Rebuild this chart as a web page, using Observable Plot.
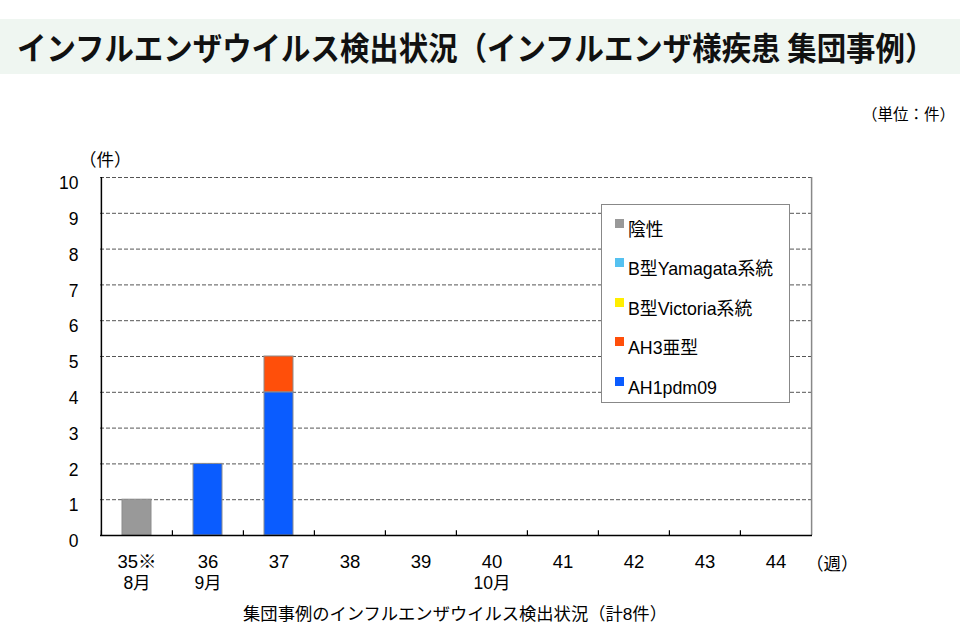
<!DOCTYPE html>
<html><head><meta charset="utf-8">
<script src="https://cdn.jsdelivr.net/npm/d3@7"></script>
<script src="https://cdn.jsdelivr.net/npm/@observablehq/plot@0.6"></script>
<style>
body{margin:0;background:#fff;font-family:"Liberation Sans","Noto Sans CJK JP",sans-serif;}
#wrap{position:relative;width:960px;height:644px;overflow:hidden;}
#title{position:absolute;left:0;top:19px;width:960px;height:55px;background:#eff6f1;}
#title span{position:absolute;left:17px;top:0;font-family:"Noto Sans CJK JP",sans-serif;font-weight:bold;font-size:29px;line-height:55px;color:#111;white-space:nowrap;transform:scale(1.015,1.1);transform-origin:left center;}
.abs{position:absolute;font-family:"Liberation Sans","Noto Sans CJK JP",sans-serif;color:#000;white-space:nowrap;}
#chart{position:absolute;left:0;top:130px;}
#legend{position:absolute;left:601px;top:204px;width:189px;height:199px;border:1.5px solid #888;background:#fff;box-sizing:border-box;}
.li{position:absolute;left:13px;font-size:17.8px;line-height:20px;font-family:"Liberation Sans","Noto Sans CJK JP",sans-serif;}
.sw{position:absolute;left:0;width:9px;height:9px;}
.li span{position:absolute;left:13px;top:0;white-space:nowrap;}
</style></head>
<body><div id="wrap">
<div id="title"><span>インフルエンザウイルス検出状況（インフルエンザ様疾患 集団事例）</span></div>
<div class="abs" style="right:5px;top:102px;font-size:15.5px;">（単位：件）</div>
<div class="abs" style="left:79px;top:146px;font-size:17.5px;">（件）</div>
<div class="abs" style="left:806px;top:550px;font-size:17.5px;">（週）</div>
<div id="chart"></div>
<div id="legend"></div>
<div class="abs" style="left:0;width:910px;text-align:center;top:600px;font-size:17.3px;">集団事例のインフルエンザウイルス検出状況（計8件）</div>
</div>
<script>
const weeks = ["35","36","37","38","39","40","41","42","43","44"];
const weekLabels = ["35※","36","37","38","39","40","41","42","43","44"];
const months = ["8月","9月","","","","10月","","","",""];
const seriesNames = ["AH1pdm09","AH3亜型","B型Victoria系統","B型Yamagata系統","陰性"];
const seriesColors = ["#0a5cff","#ff4f0a","#ffee00","#55c1f0","#999999"];
const ah1pdm09 = [0,2,4,0,0,0,0,0,0,0];
const ah3 = [0,0,1,0,0,0,0,0,0,0];
const victoria = [0,0,0,0,0,0,0,0,0,0];
const yamagata = [0,0,0,0,0,0,0,0,0,0];
const negative = [1,0,0,0,0,0,0,0,0,0];
const yTicks = [0,1,2,3,4,5,6,7,8,9,10];

const seriesValues = [ah1pdm09, ah3, victoria, yamagata, negative];
const rows = [];
seriesNames.forEach((s, si) => weeks.forEach((w, wi) => {
  if (seriesValues[si][wi] > 0) rows.push({week: w, type: s, value: seriesValues[si][wi]});
}));

const W = 960, ML = 100, MR = 148;
const halfStep = (W - ML - MR) / weeks.length / 2;

const chart = Plot.plot({
  width: W, height: 470,
  marginLeft: ML, marginRight: MR, marginTop: 47, marginBottom: 65,
  style: {fontFamily: '"Liberation Sans","Noto Sans CJK JP",sans-serif', fontSize: "17px", color: "#000", background: "transparent"},
  x: {domain: weeks, paddingInner: 0.59, paddingOuter: 0.295, axis: null, label: null},
  y: {domain: [0, 10], axis: null, label: null},
  color: {domain: seriesNames, range: seriesColors},
  marks: [
    Plot.gridY(yTicks.filter(d => d > 0), {stroke: "#555", strokeOpacity: 1, strokeDasharray: "4,2", strokeWidth: 1}),
    Plot.barY(rows, {x: "week", y: "value", fill: "type", z: "type", order: seriesNames, stroke: "#8c8c8c", strokeWidth: 1}),
    Plot.ruleX([weeks[weeks.length - 1]], {dx: halfStep, y1: 0, y2: 10, stroke: "#888", strokeWidth: 1.5}),
    Plot.ruleX(weeks, {dx: -halfStep, y1: 0, y2: 0.13, stroke: "#000", strokeWidth: 1.2}),
    Plot.ruleX([weeks[0]], {dx: -halfStep, y1: 0, y2: 10, stroke: "#000", strokeWidth: 1.5}),
    Plot.ruleY([0], {stroke: "#000", strokeWidth: 1.5}),
    Plot.axisY(yTicks, {tickSize: 0, tickPadding: 22, fontSize: 17.5, dy: 6, label: null, tickFormat: d => String(d)}),
    Plot.axisX(weeks, {tickSize: 0, tickPadding: 19, fontSize: 18.5, label: null, tickFormat: d => weekLabels[weeks.indexOf(d)]}),
    Plot.text(weeks, {x: d => d, text: (d, i) => months[i], frameAnchor: "bottom", dy: 41, lineAnchor: "top", fontSize: 17.5})
  ]
});
document.getElementById("chart").appendChild(chart);

const legend = document.getElementById("legend");
const legendOrder = seriesNames.slice().reverse();
legendOrder.forEach((s, i) => {
  const div = document.createElement("div");
  div.className = "li";
  div.style.top = (24.5 + i * 39.5 - 10) + "px";
  const sw = document.createElement("div");
  sw.className = "sw";
  sw.style.background = seriesColors[seriesNames.indexOf(s)];
  sw.style.top = "-1px";
  const sp = document.createElement("span");
  sp.textContent = s;
  div.appendChild(sw); div.appendChild(sp);
  legend.appendChild(div);
});
</script>
</body></html>
